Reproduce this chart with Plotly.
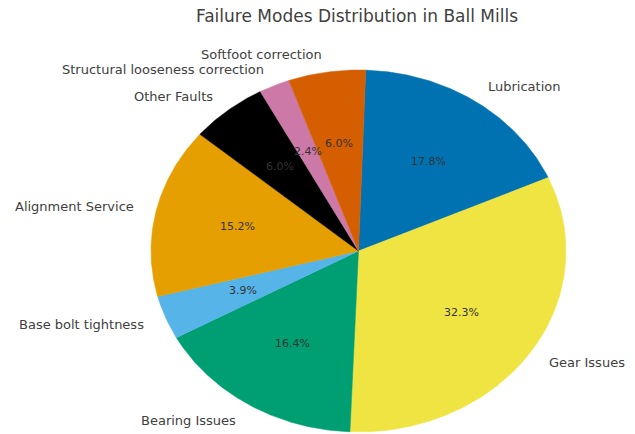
import numpy as np
import plotly.graph_objects as go

labels = ["Lubrication", "Gear Issues", "Bearing Issues", "Base bolt tightness",
          "Alignment Service", "Other Faults", "Structural looseness correction",
          "Softfoot correction"]
values = [17.8, 32.3, 16.4, 3.9, 15.2, 6.0, 2.4, 6.0]
colors = ["#0072B2", "#F0E442", "#009E73", "#56B4E9",
          "#E69F00", "#000000", "#CC79A7", "#D55E00"]
title = "Failure Modes Distribution in Ball Mills"

start_angle = 88.0  # degrees, slices go clockwise
W, H = 635, 434
cx_px, cy_px, rx_px, ry_px = 358.5, 251.0, 207.5, 181.0

fig = go.Figure()
annotations = []
total = sum(values)
theta = start_angle
for lab, val, col in zip(labels, values, colors):
    span = 360.0 * val / total
    t = np.radians(np.linspace(theta, theta - span, max(int(span * 2), 4)))
    xs = np.concatenate([[0.0], np.cos(t), [0.0]])
    ys = np.concatenate([[0.0], np.sin(t), [0.0]])
    fig.add_trace(go.Scatter(x=xs, y=ys, fill="toself", fillcolor=col, mode="lines",
                             line=dict(color=col, width=0.5), hoverinfo="skip",
                             showlegend=False))
    mid = np.radians(theta - span / 2)
    lx, ly = 1.1 * np.cos(mid), 1.1 * np.sin(mid)
    annotations.append(dict(x=lx, y=ly, xref="x", yref="y", text=lab, showarrow=False,
                            xanchor="left" if lx > 0 else "right", yanchor="middle",
                            font=dict(family="DejaVu Sans", size=13, color="#404040")))
    px, py = 0.6 * np.cos(mid), 0.6 * np.sin(mid)
    annotations.append(dict(x=px, y=py, xref="x", yref="y", text=f"{val:.1f}%",
                            showarrow=False, xanchor="center", yanchor="middle",
                            font=dict(family="DejaVu Sans", size=11, color="#333333")))
    theta -= span

xa = -cx_px / rx_px
xb = xa + W / rx_px
ytop = cy_px / ry_px
ybot = ytop - H / ry_px

fig.update_layout(
    width=W, height=H,
    margin=dict(l=0, r=0, t=0, b=0),
    paper_bgcolor="white", plot_bgcolor="white",
    xaxis=dict(range=[xa, xb], visible=False, fixedrange=True),
    yaxis=dict(range=[ybot, ytop], visible=False, fixedrange=True),
    annotations=annotations,
    title=dict(text=title, x=357 / W, xanchor="center", y=1 - 16 / H, yanchor="middle",
               xref="paper", yref="container",
               font=dict(family="DejaVu Sans", size=17, color="#404040")),
    showlegend=False,
)
fig.write_html("out.html")
